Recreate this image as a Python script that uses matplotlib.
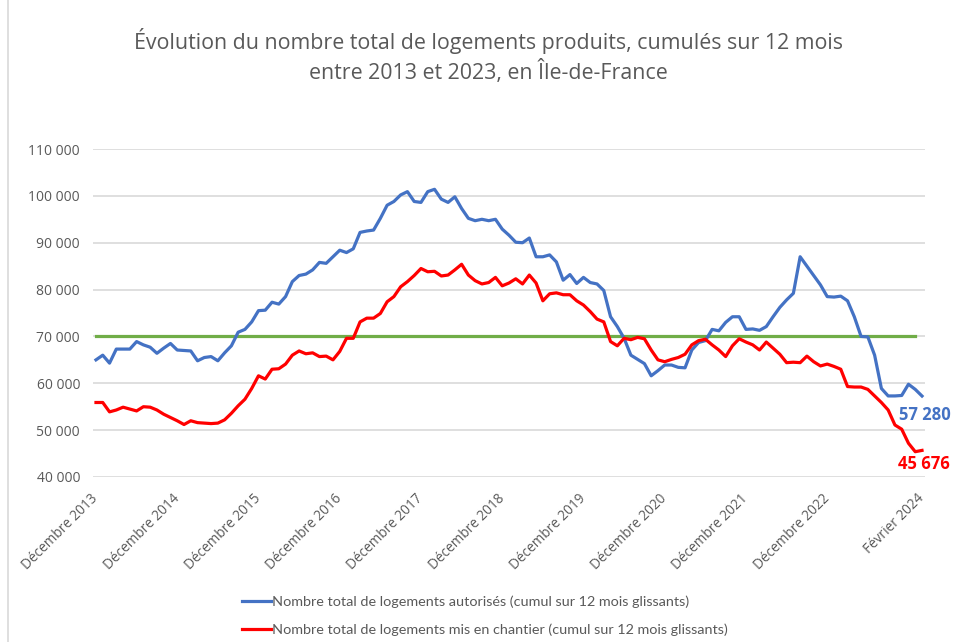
import numpy as np
import matplotlib
matplotlib.use("Agg")
import matplotlib.pyplot as plt
from matplotlib.patches import Rectangle
from matplotlib.ticker import FuncFormatter

# cumul sur 12 mois glissants, de décembre 2013 à février 2024 (en milliers)
autorises = [
    65.0, 66.0, 64.3, 67.3, 67.3, 67.3, 68.9, 68.2, 67.7, 66.4, 67.5, 68.5,
    67.1, 67.0, 66.9, 64.8, 65.5, 65.7, 64.8, 66.5, 68.0, 70.9, 71.5, 73.1,
    75.5, 75.6, 77.3, 76.9, 78.5, 81.7, 83.0, 83.3, 84.2, 85.8, 85.6, 87.0,
    88.4, 87.9, 88.7, 92.2, 92.5, 92.7, 95.2, 98.0, 98.8, 100.2, 100.9, 98.8,
    98.6, 100.9, 101.4, 99.3, 98.6, 99.8, 97.3, 95.2, 94.7, 95.0, 94.7, 95.0,
    92.9, 91.6, 90.1, 90.0, 91.0, 87.0, 87.0, 87.4, 85.9, 82.0, 83.2, 81.3,
    82.6, 81.5, 81.2, 79.8, 74.2, 72.1, 69.6, 66.0, 65.1, 64.2, 61.6, 62.7,
    63.9, 63.9, 63.4, 63.3, 67.1, 68.7, 69.1, 71.5, 71.2, 73.0, 74.2, 74.2,
    71.5, 71.6, 71.3, 72.1, 74.2, 76.2, 77.8, 79.2, 87.0, 85.0, 83.0, 81.0,
    78.5, 78.4, 78.6, 77.6, 74.2, 70.0, 69.9, 66.0, 58.9, 57.3, 57.3, 57.4,
    59.8, 58.7, 57.28,
]
mis_en_chantier = [
    55.9, 55.9, 53.9, 54.3, 54.9, 54.5, 54.1, 55.0, 54.9, 54.3, 53.4, 52.7,
    52.0, 51.2, 52.0, 51.6, 51.5, 51.4, 51.5, 52.2, 53.6, 55.2, 56.6, 58.9,
    61.6, 60.9, 63.0, 63.1, 64.1, 66.0, 66.9, 66.3, 66.5, 65.7, 65.8, 65.0,
    66.8, 69.6, 69.6, 73.1, 73.9, 73.9, 74.9, 77.4, 78.5, 80.6, 81.7, 83.0,
    84.5, 83.8, 83.9, 82.9, 83.1, 84.2, 85.4, 83.1, 81.9, 81.2, 81.5, 82.6,
    80.8, 81.4, 82.3, 81.2, 83.1, 81.4, 77.6, 79.1, 79.3, 78.9, 78.9, 77.6,
    76.7, 75.3, 73.7, 73.1, 68.9, 68.0, 69.6, 69.3, 69.8, 69.5, 67.1, 65.0,
    64.6, 65.1, 65.5, 66.2, 68.2, 69.1, 69.4, 68.2, 67.1, 65.7, 68.0, 69.5,
    68.8, 68.2, 67.1, 68.8, 67.5, 66.2, 64.4, 64.5, 64.4, 65.8, 64.6, 63.7,
    64.1, 63.6, 63.0, 59.3, 59.2, 59.2, 58.7, 57.3, 55.9, 54.3, 51.1, 50.2,
    47.2, 45.4, 45.676,
]
seuil = 70000

autorises = np.array(autorises) * 1000
mis_en_chantier = np.array(mis_en_chantier) * 1000
mois = np.arange(len(autorises))

tick_pos = [0, 12, 24, 36, 48, 60, 72, 84, 96, 108, 122]
tick_labels = ["Décembre 2013", "Décembre 2014", "Décembre 2015", "Décembre 2016",
               "Décembre 2017", "Décembre 2018", "Décembre 2019", "Décembre 2020",
               "Décembre 2021", "Décembre 2022", "Février 2024"]

lab_aut = "Nombre total de logements autorisés (cumul sur 12 mois glissants)"
lab_mec = "Nombre total de logements mis en chantier (cumul sur 12 mois glissants)"

gris = "#595959"
bleu = "#4472C4"
rouge = "#FF0000"
vert = "#70AD47"

plt.rcParams["font.family"] = ["Open Sans", "DejaVu Sans"]

fig = plt.figure(figsize=(9.55, 6.42), dpi=100)
ax = fig.add_axes([92.6 / 955, 1 - 477 / 642, 832.8 / 955, 328 / 642])

ax.plot(mois, autorises, color=bleu, lw=2.3, solid_joinstyle="round", label=lab_aut, zorder=3)
ax.plot(mois, mis_en_chantier, color=rouge, lw=2.3, solid_joinstyle="round", label=lab_mec, zorder=3)
ax.plot(mois[:-1], [seuil] * (len(mois) - 1), color=vert, lw=2.3, zorder=2)

ax.set_xlim(-0.5, len(mois) - 0.5)
ax.set_ylim(40000, 110000)
ax.set_yticks(np.arange(40000, 110001, 10000))
ax.yaxis.set_major_formatter(FuncFormatter(lambda v, p: f"{v:,.0f}".replace(",", " ")))
ax.grid(axis="y", color="#D9D9D9", lw=1.2)
ax.set_axisbelow(True)
for s in ax.spines.values():
    s.set_visible(False)
ax.tick_params(axis="y", length=0, pad=9, labelsize=10, labelcolor=gris)

ax.set_xticks(tick_pos)
ax.set_xticklabels(tick_labels, rotation=45, ha="right", va="center",
                   rotation_mode="anchor", fontsize=9.8, color=gris)
ax.tick_params(axis="x", length=0, pad=14)

# étiquettes des dernières valeurs
ax.annotate(f"{autorises[-1]:,.0f}".replace(",", " "), (mois[-1], autorises[-1]),
            xytext=(2, -14), textcoords="offset points", ha="center", va="center",
            color=bleu, fontsize=12, fontweight="bold")
ax.annotate(f"{mis_en_chantier[-1]:,.0f}".replace(",", " "), (mois[-1], mis_en_chantier[-1]),
            xytext=(1, -10), textcoords="offset points", ha="center", va="center",
            color=rouge, fontsize=12, fontweight="bold")

fig.text(0.511, 1 - 56 / 642,
         "Évolution du nombre total de logements produits, cumulés sur 12 mois\n"
         "entre 2013 et 2023, en Île-de-France",
         ha="center", va="center", fontsize=15.4, color=gris, linespacing=1.3)

leg = fig.legend(loc="center left", bbox_to_anchor=(229 / 955, 1 - 616 / 642),
                 frameon=False, handlelength=2.0, handletextpad=0.1,
                 labelspacing=1.1, prop={"family": ["Lato", "DejaVu Sans"], "size": 10.4})
for t in leg.get_texts():
    t.set_color(gris)

fig.patches.append(Rectangle((8 / 955, -0.05), 1.2, 1.2, transform=fig.transFigure,
                             fill=False, edgecolor="#D9D9D9", lw=1.2))

fig.savefig("out.png", dpi=100)
